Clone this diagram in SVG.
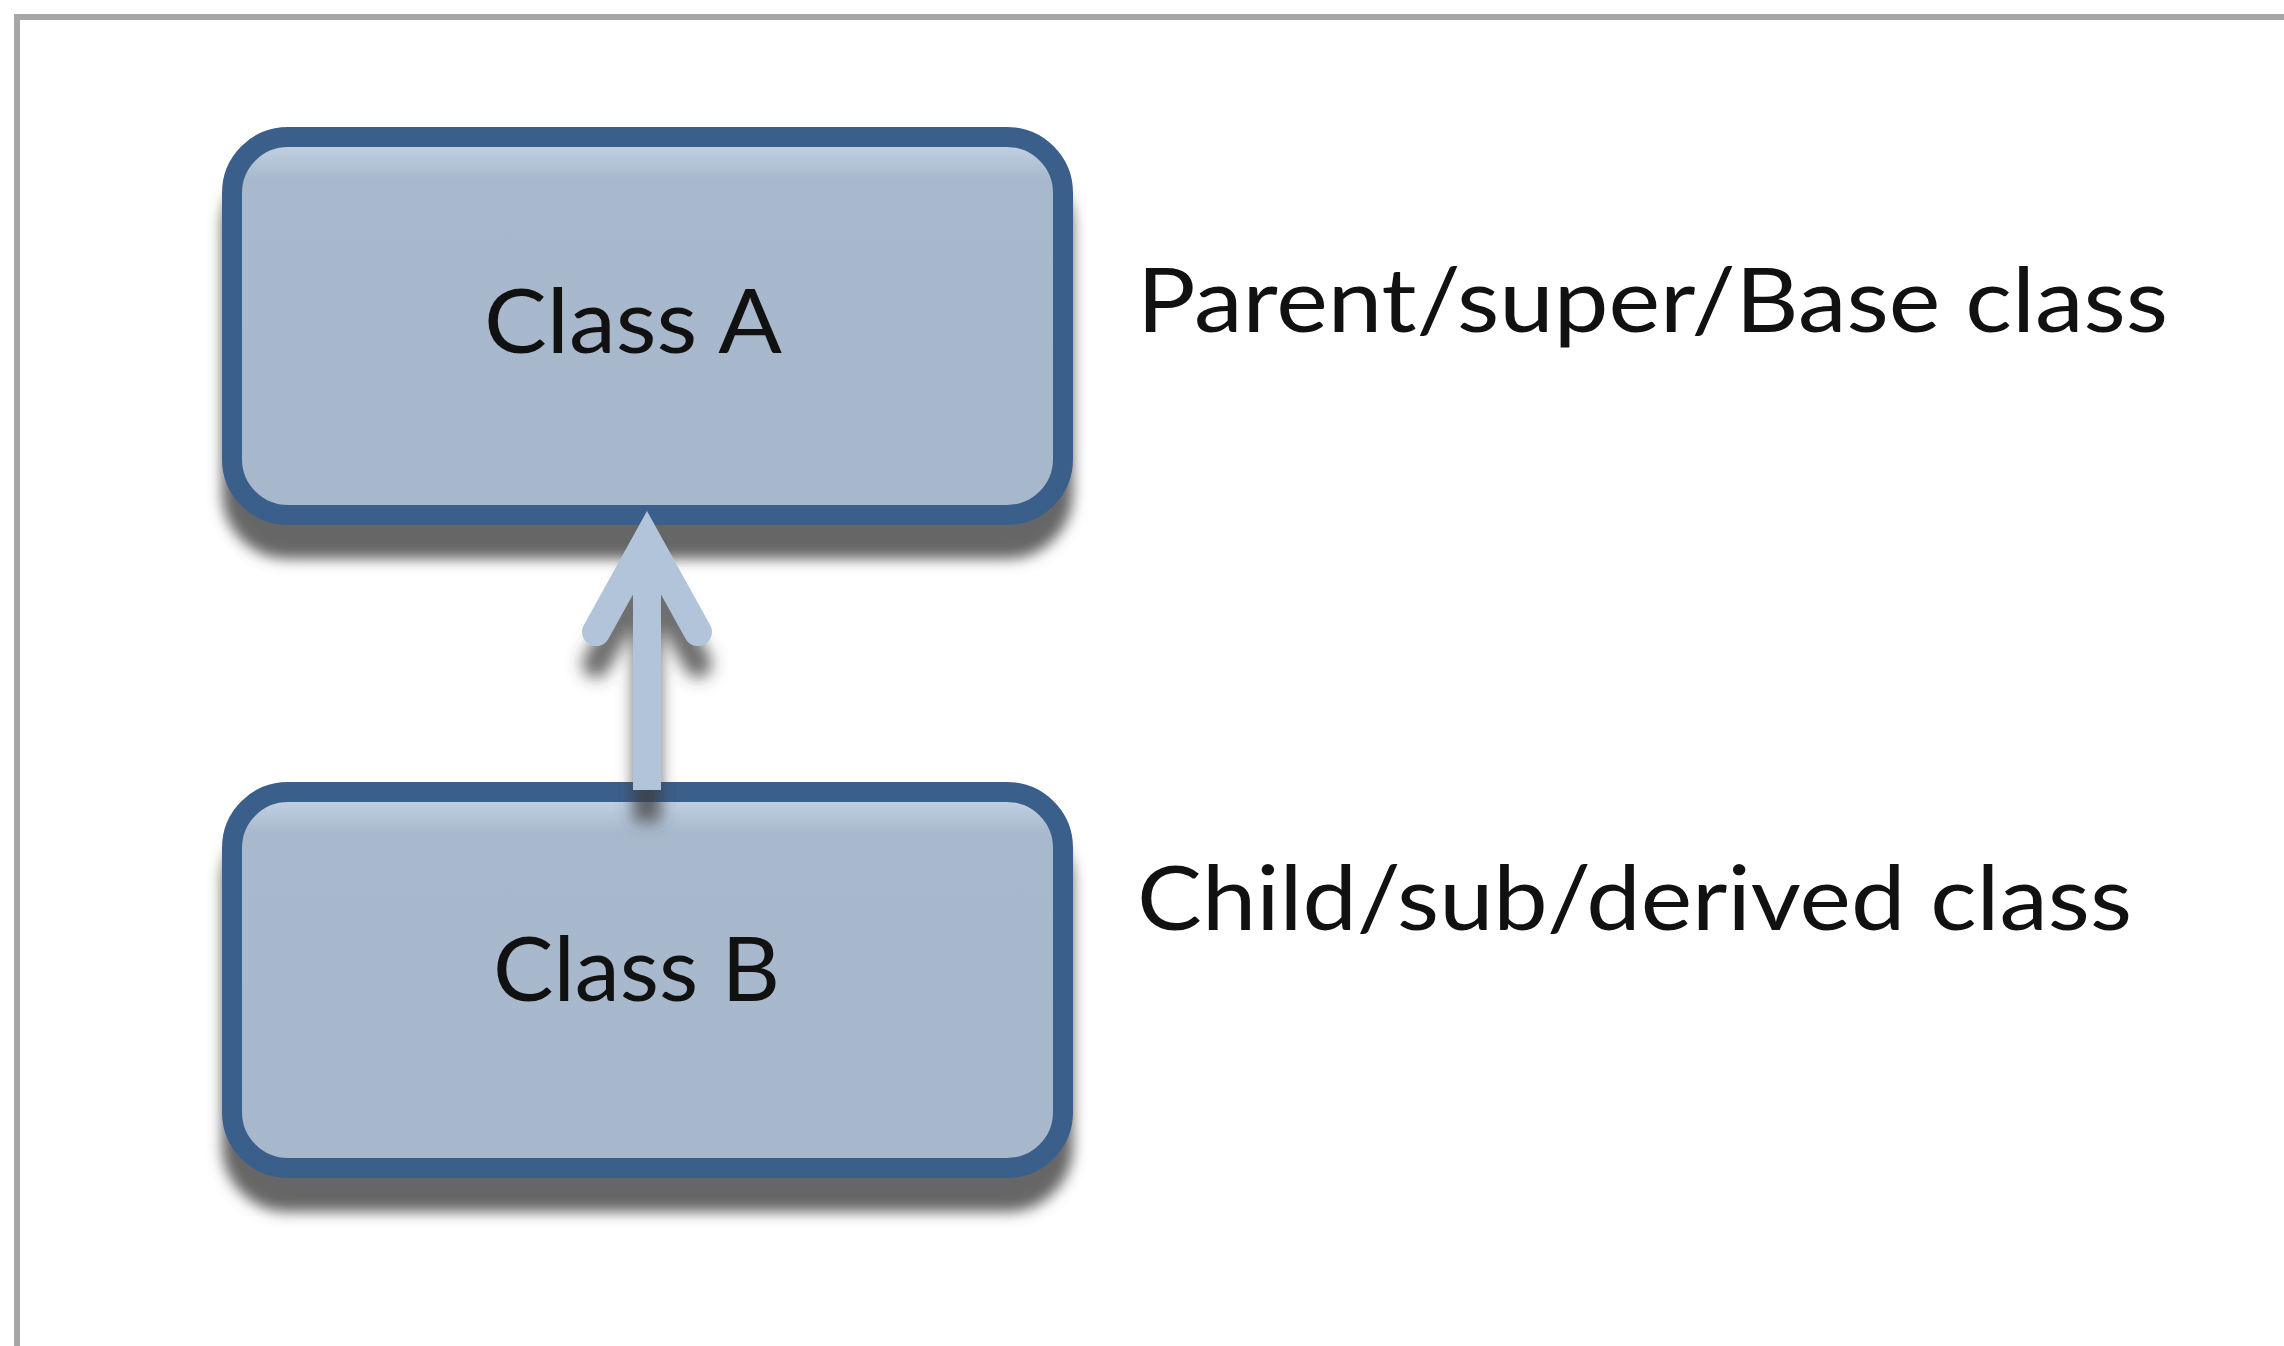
<svg xmlns="http://www.w3.org/2000/svg" width="2284" height="1346" viewBox="0 0 2284 1346">
  <style>
    .box { fill: url(#boxFill); stroke: #3a5e8b; stroke-width: 20; }
    .lbl { font-family: Lato, "Open Sans", "Liberation Sans", sans-serif; font-size: 90px; fill: #111111; }
    .arrow { fill: none; stroke: #b1c4da; stroke-width: 28; }
  </style>
  <defs>
    <linearGradient id="boxFill" x1="0" y1="0" x2="0" y2="1">
      <stop offset="0" stop-color="#c6d5e7"/>
      <stop offset="0.04" stop-color="#bccbde"/>
      <stop offset="0.11" stop-color="#a9b9cd"/>
      <stop offset="1" stop-color="#a8b8cc"/>
    </linearGradient>
    <filter id="boxShadow" x="-10%" y="-10%" width="120%" height="140%">
      <feGaussianBlur in="SourceAlpha" stdDeviation="7"/>
      <feOffset dy="34" result="blur"/>
      <feFlood flood-color="#5e5e5e" flood-opacity="0.95"/>
      <feComposite in2="blur" operator="in" result="shadow"/>
      <feMerge>
        <feMergeNode in="shadow"/>
        <feMergeNode in="SourceGraphic"/>
      </feMerge>
    </filter>
    <filter id="arrowShadow" x="-60%" y="-20%" width="220%" height="150%">
      <feGaussianBlur in="SourceAlpha" stdDeviation="8"/>
      <feOffset dy="32" result="blur"/>
      <feFlood flood-color="#3c3c3c" flood-opacity="0.75"/>
      <feComposite in2="blur" operator="in" result="shadow"/>
      <feMerge>
        <feMergeNode in="shadow"/>
        <feMergeNode in="SourceGraphic"/>
      </feMerge>
    </filter>
  </defs>

  <rect x="0" y="0" width="2284" height="1346" fill="#ffffff"/>
  <path id="frame" d="M17,1346 V17 H2284" fill="none" stroke="#a6a6a6" stroke-width="6"/>

  <g id="classA">
    <rect class="box" x="232" y="137" width="831" height="378" rx="56" ry="56" filter="url(#boxShadow)"/>
    <text class="lbl" x="484" y="353" textLength="298" lengthAdjust="spacingAndGlyphs">Class A</text>
  </g>

  <g id="classB">
    <rect class="box" x="232" y="792" width="831" height="376" rx="56" ry="56" filter="url(#boxShadow)"/>
    <text class="lbl" x="493" y="1001" textLength="287" lengthAdjust="spacingAndGlyphs">Class B</text>
  </g>

  <g id="labelParent">
    <text class="lbl" x="1137" y="332" textLength="1031" lengthAdjust="spacingAndGlyphs">Parent/super/Base class</text>
  </g>

  <g id="labelChild">
    <text class="lbl" x="1137" y="930" textLength="995" lengthAdjust="spacingAndGlyphs">Child/sub/derived class</text>
  </g>

  <g id="connectors">
    <g filter="url(#arrowShadow)">
      <line class="arrow" x1="647" y1="790" x2="647" y2="560" stroke-linecap="butt"/>
      <polyline class="arrow" points="596,632 647,540 698,632" stroke-linecap="round" stroke-linejoin="miter" stroke-miterlimit="6"/>
    </g>
  </g>
</svg>
